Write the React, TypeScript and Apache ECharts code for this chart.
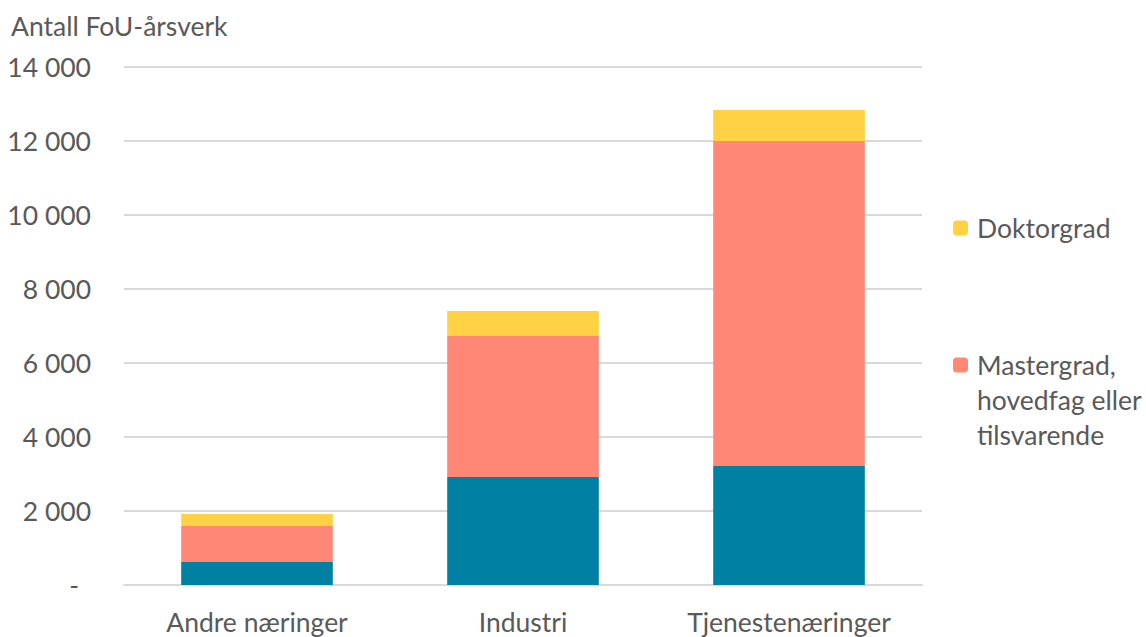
import React, { useEffect, useRef } from "react";
import * as echarts from "echarts";

const categories = ["Andre næringer", "Industri", "Tjenestenæringer"];
const lavere = [620, 2920, 3215];
const mastergrad = [975, 3810, 8785];
const doktorgrad = [325, 675, 840];
const yTicks = { min: 0, max: 14000, interval: 2000 };

const FONT = "Lato";
const TEXT = "#595959";
const FS = 26.5;

export default function App() {
  const ref = useRef<HTMLDivElement>(null);
  useEffect(() => {
    const chart = echarts.init(ref.current!, null, { renderer: "svg" });
    chart.setOption({
      animation: false,
      textStyle: { fontFamily: FONT, color: TEXT },
      title: {
        text: "Antall FoU-årsverk",
        left: 11,
        top: 12,
        padding: 0,
        textStyle: { fontFamily: FONT, fontSize: FS, fontWeight: "normal", color: TEXT },
      },
      legend: [
        {
          data: ["Doktorgrad"],
          orient: "vertical",
          left: 953,
          top: 210.5,
          padding: 0,
          itemWidth: 15,
          itemHeight: 15,
          selectedMode: false,
          textStyle: { fontFamily: FONT, fontSize: FS, color: TEXT, lineHeight: 35, padding: [0, 0, 0, 4] },
        },
        {
          data: ["Mastergrad, hovedfag eller tilsvarende"],
          orient: "vertical",
          left: 953,
          top: 277.5,
          padding: 0,
          itemWidth: 15,
          itemHeight: 15,
          selectedMode: false,
          formatter: () => "\n\nMastergrad,\nhovedfag eller\ntilsvarende",
          textStyle: { fontFamily: FONT, fontSize: FS, color: TEXT, lineHeight: 35, padding: [0, 0, 0, 4] },
        },
      ],
      grid: { left: 124, right: 224, top: 67, bottom: 52, containLabel: false },
      xAxis: {
        type: "category",
        data: categories,
        axisLine: { show: true, lineStyle: { color: "#d9d9d9", width: 2 } },
        axisTick: { show: false },
        axisLabel: { fontFamily: FONT, fontSize: FS, color: TEXT, margin: 23 },
      },
      yAxis: {
        type: "value",
        min: yTicks.min,
        max: yTicks.max,
        interval: yTicks.interval,
        axisLine: { show: false },
        axisTick: { show: false },
        splitLine: { lineStyle: { color: "#d9d9d9", width: 2 } },
        axisLabel: {
          fontFamily: FONT,
          fontSize: FS,
          color: TEXT,
          margin: 33,
          formatter: (v: number) =>
            v === 0 ? "{z|-}" : v.toLocaleString("en-US").replace(/,/g, " "),
          rich: {
            z: { fontFamily: FONT, fontSize: FS, color: TEXT, padding: [0, 12, 0, 0] },
          },
        },
      },
      series: [
        {
          name: "Lavere grad",
          type: "bar",
          stack: "total",
          barWidth: "57%",
          data: lavere,
          itemStyle: { color: "#0080a3" },
        },
        {
          name: "Mastergrad, hovedfag eller tilsvarende",
          type: "bar",
          stack: "total",
          data: mastergrad,
          itemStyle: { color: "#ff8776" },
        },
        {
          name: "Doktorgrad",
          type: "bar",
          stack: "total",
          data: doktorgrad,
          itemStyle: { color: "#ffd143" },
        },
      ],
    });
    return () => chart.dispose();
  }, []);
  return (
    <div
      ref={ref}
      style={{ position: "fixed", left: 0, top: 0, width: 1146, height: 637, background: "#fff" }}
    />
  );
}
